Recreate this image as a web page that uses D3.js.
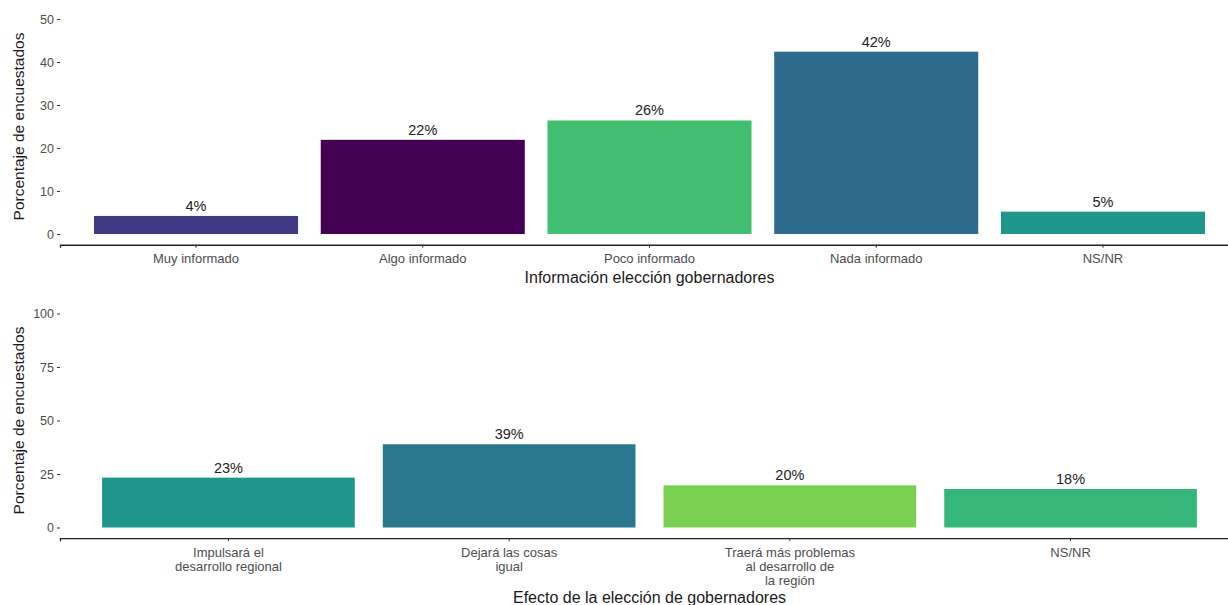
<!DOCTYPE html>
<html><head><meta charset="utf-8">
<script src="https://cdn.jsdelivr.net/npm/d3@7"></script>
<style>body{margin:0;background:#fff}svg{display:block}text{font-family:"Liberation Sans",Arial,sans-serif}</style>
</head><body><svg id="c" width="1228" height="605"></svg>
<script>
// Panel 1
const cats1 = ["Muy informado","Algo informado","Poco informado","Nada informado","NS/NR"];
const vals1 = [4.2, 21.9, 26.4, 42.4, 5.2];
const labels1 = ["4%","22%","26%","42%","5%"];
const colors1 = ["#3f3a83","#440154","#43bf71","#2e6b8d","#1f968b"];
const ticks1 = [0,10,20,30,40,50];
const title1 = "Información elección gobernadores";
// Panel 2
const cats2 = [["Impulsará el","desarrollo regional"],["Dejará las cosas","igual"],["Traerá más problemas","al desarrollo de","la región"],["NS/NR"]];
const vals2 = [23.3, 38.9, 19.7, 18.0];
const labels2 = ["23%","39%","20%","18%"];
const colors2 = ["#1f968b","#2a778e","#7ad151","#35b779"];
const ticks2 = [0,25,50,75,100];
const title2 = "Efecto de la elección de gobernadores";
const yTitle = "Porcentaje de encuestados";

const svg = d3.select("#c");

function panel(cats, vals, labels, colors, ticks, ymax, top, bottom, xTitleY, title){
  const g = svg.append("g");
  const idx = cats.map((d,i)=>i);
  const x = d3.scaleBand().domain(idx).range([60,1239]).paddingInner(0.1).paddingOuter(0.15);
  const ext = ymax*0.05;
  const y = d3.scaleLinear().domain([-ext, ymax+ext]).range([bottom, top]);
  // y axis (ticks only, no line)
  const ya = g.append("g").attr("transform","translate(60,0)")
    .call(d3.axisLeft(y).tickValues(ticks).tickSize(3).tickPadding(3));
  ya.select(".domain").remove();
  ya.selectAll("line").attr("stroke","#333").attr("stroke-width",1);
  ya.selectAll("text").attr("fill","#4d4d4d").style("font-size","12.5px").style("font-family","Liberation Sans, Arial, sans-serif");
  // bars
  g.selectAll("rect.bar").data(vals).join("rect")
    .attr("x",(d,i)=>x(i)).attr("width",x.bandwidth())
    .attr("y",d=>y(d)).attr("height",d=>y(0)-y(d))
    .attr("fill",(d,i)=>colors[i]);
  // value labels
  g.selectAll("text.val").data(vals).join("text")
    .attr("x",(d,i)=>x(i)+x.bandwidth()/2).attr("y",d=>y(d)-5)
    .attr("text-anchor","middle").attr("fill","#222").style("font-size","14.5px")
    .text((d,i)=>labels[i]);
  // x axis
  const xa = g.append("g").attr("transform",`translate(0,${bottom})`)
    .call(d3.axisBottom(x).tickSize(3).tickFormat(()=>""));
  xa.select(".domain").attr("stroke","#222").attr("stroke-width",1.3);
  xa.selectAll("line").attr("stroke","#333");
  // multi-line tick labels
  cats.forEach((c,i)=>{
    const lines = Array.isArray(c)?c:[c];
    const t = g.append("text").attr("text-anchor","middle").attr("fill","#4d4d4d").style("font-size","13px");
    lines.forEach((l,j)=>{
      t.append("tspan").attr("x",x(i)+x.bandwidth()/2).attr("y",bottom+18.5+j*14).text(l);
    });
  });
  // x title
  g.append("text").attr("x",(60+1239)/2).attr("y",xTitleY).attr("text-anchor","middle")
    .attr("fill","#1a1a1a").style("font-size","16px").text(title);
  // y title
  g.append("text").attr("transform",`translate(24,${(top+bottom)/2}) rotate(-90)`)
    .attr("text-anchor","middle").attr("fill","#1a1a1a").style("font-size","15.5px").text(yTitle);
}

panel(cats1, vals1, labels1, colors1, ticks1, 50, 8.25, 244.75, 283, title1);
panel(cats2, vals2, labels2, colors2, ticks2, 100, 302.8, 538.2, 603, title2);
</script></body></html>
